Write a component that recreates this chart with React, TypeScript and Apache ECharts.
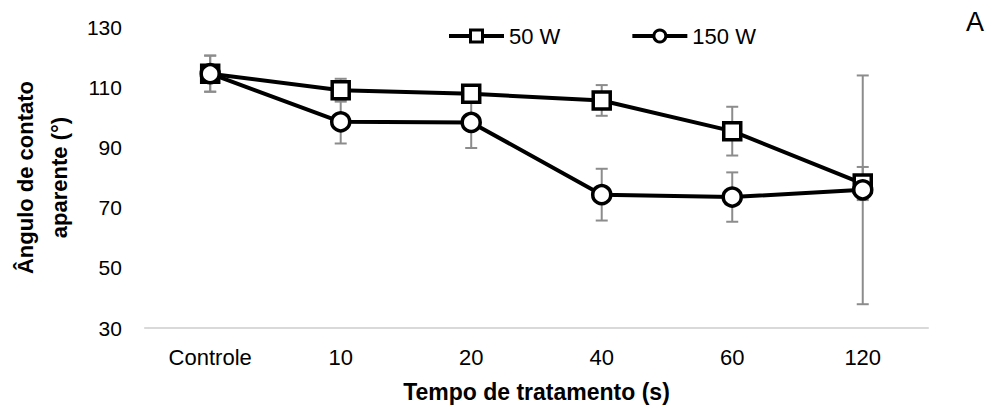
import React, { useEffect, useRef } from "react";
import * as echarts from "echarts";

// Treatment times (s) on the category axis
const categories = ["Controle", "10", "20", "40", "60", "120"];

// Apparent contact angle (°) — means and standard deviations
const mean50W = [114.5, 109, 107.8, 105.6, 95.4, 78];
const sd50W = [6, 3.8, 2, 5.1, 8.1, 5.5];
const mean150W = [114.5, 98.5, 98.3, 74.3, 73.5, 75.9];
const sd150W = [6, 7.2, 8.5, 8.6, 8.2, 38];

const yTicks = { min: 30, max: 130, interval: 20 };

const FONT = "'Liberation Sans', Arial, Helvetica, sans-serif";

function errorData(means: number[], sds: number[]) {
  return means.map((m, i) => [i, m - sds[i], m + sds[i]]);
}

function errorBarRender(params: any, api: any) {
  const x = api.value(0);
  const lo = api.coord([x, api.value(1)]);
  const hi = api.coord([x, api.value(2)]);
  const cap = 6;
  const style = { stroke: "#8c8c8c", lineWidth: 2 };
  return {
    type: "group",
    children: [
      { type: "line", shape: { x1: hi[0], y1: hi[1], x2: lo[0], y2: lo[1] }, style },
      { type: "line", shape: { x1: hi[0] - cap, y1: hi[1], x2: hi[0] + cap, y2: hi[1] }, style },
      { type: "line", shape: { x1: lo[0] - cap, y1: lo[1], x2: lo[0] + cap, y2: lo[1] }, style },
    ],
  };
}

export default function App() {
  const ref = useRef<HTMLDivElement>(null);

  useEffect(() => {
    if (!ref.current) return;
    const chart = echarts.init(ref.current, undefined, { renderer: "svg" });
    chart.setOption({
      animation: false,
      backgroundColor: "#ffffff",
      textStyle: { fontFamily: FONT },
      grid: { left: 135, right: 64, top: 27, bottom: 76 },
      legend: {
        left: 442,
        top: 20,
        itemWidth: 55,
        itemHeight: 15,
        itemGap: 70,
        lineStyle: { width: 4, color: "#000" },
        itemStyle: { color: "#fff", borderColor: "#000", borderWidth: 3 },
        textStyle: { fontSize: 22, color: "#000", fontFamily: FONT },
        data: ["50 W", "150 W"],
      },
      graphic: [
        {
          type: "text",
          left: 966,
          top: 8,
          style: { text: "A", fontSize: 27, fill: "#000", fontFamily: FONT },
        },
      ],
      xAxis: {
        type: "category",
        data: categories,
        boundaryGap: true,
        axisLine: { lineStyle: { color: "#d9d9d9", width: 2 } },
        axisTick: { show: false },
        axisLabel: { fontSize: 22, color: "#000", margin: 18, fontFamily: FONT },
        name: "Tempo de tratamento (s)",
        nameLocation: "middle",
        nameGap: 52,
        nameTextStyle: { fontSize: 23, fontWeight: "bold", color: "#000", fontFamily: FONT },
      },
      yAxis: {
        type: "value",
        min: yTicks.min,
        max: yTicks.max,
        interval: yTicks.interval,
        axisLine: { show: false },
        axisTick: { show: false },
        splitLine: { show: false },
        axisLabel: { fontSize: 21, color: "#000", margin: 23, fontFamily: FONT },
        name: "Ângulo de contato\naparente (°)",
        nameLocation: "middle",
        nameRotate: 90,
        nameGap: 62,
        nameTextStyle: {
          fontSize: 22,
          fontWeight: "bold",
          color: "#000",
          lineHeight: 34,
          fontFamily: FONT,
        },
      },
      series: [
        {
          name: "50 W err",
          type: "custom",
          renderItem: errorBarRender,
          data: errorData(mean50W, sd50W),
          encode: { x: 0, y: [1, 2] },
          z: 1,
          silent: true,
        },
        {
          name: "150 W err",
          type: "custom",
          renderItem: errorBarRender,
          data: errorData(mean150W, sd150W),
          encode: { x: 0, y: [1, 2] },
          z: 1,
          silent: true,
        },
        {
          name: "50 W",
          type: "line",
          data: mean50W,
          symbol: "rect",
          symbolSize: 17,
          lineStyle: { color: "#000", width: 4 },
          itemStyle: { color: "#fff", borderColor: "#000", borderWidth: 3.5 },
          z: 3,
        },
        {
          name: "150 W",
          type: "line",
          data: mean150W,
          symbol: "circle",
          symbolSize: 18,
          lineStyle: { color: "#000", width: 4 },
          itemStyle: { color: "#fff", borderColor: "#000", borderWidth: 3.5 },
          z: 4,
        },
      ],
    });
    return () => chart.dispose();
  }, []);

  return (
    <div
      ref={ref}
      style={{ position: "fixed", left: 0, top: 0, width: 992, height: 408, background: "#fff" }}
    />
  );
}
